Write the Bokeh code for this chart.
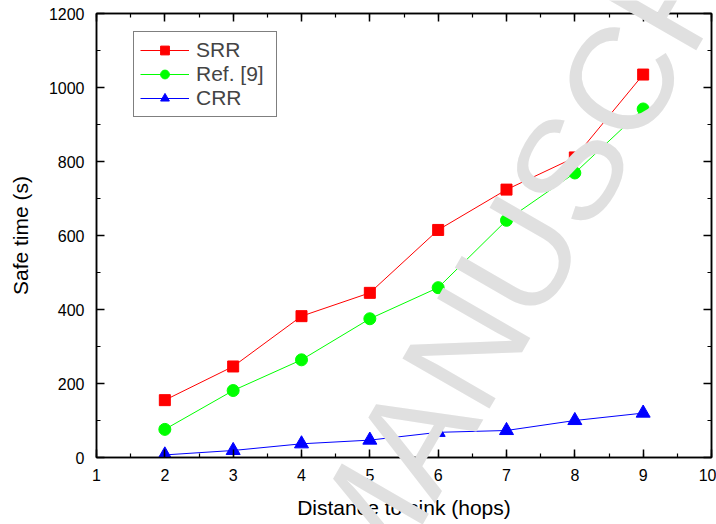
from bokeh.plotting import figure
from bokeh.models import (Range1d, SingleIntervalTicker, LinearAxis, Legend, LegendItem, Label)
from bokeh.layouts import column
from bokeh.embed import file_html
from bokeh.resources import INLINE

hops = [2, 3, 4, 5, 6, 7, 8, 9]
srr = [155, 246, 382, 445, 615, 724, 811, 1035]
ref9 = [76, 181, 264, 375, 459, 641, 769, 942]
crr = [7, 19, 37, 47, 68, 73, 100, 120]
series_names = ["SRR", "Ref. [9]", "CRR"]
x_label = "Distance to sink (hops)"
y_label = "Safe time (s)"
watermark = "MANUSCRIPT"

FONT = "Liberation Sans"
W, H = 716, 524

p = figure(width=W, height=H, output_backend="svg", toolbar_location=None,
           x_range=Range1d(1, 10), y_range=Range1d(0, 1200),
           min_border_left=96, min_border_right=5, min_border_top=13, min_border_bottom=67)
p.grid.visible = False
p.outline_line_color = "black"
p.outline_line_width = 1.5
p.background_fill_color = "white"
p.border_fill_color = "white"

def style(ax, labels=True):
    ax.axis_line_width = 1.5
    ax.axis_line_color = "black"
    ax.major_tick_in = 8
    ax.major_tick_out = 0
    ax.minor_tick_in = 4
    ax.minor_tick_out = 0
    ax.major_tick_line_width = 1.5
    ax.minor_tick_line_width = 1.2
    ax.major_label_text_font = FONT
    ax.major_label_text_color = "black"
    ax.axis_label_text_font = FONT
    ax.axis_label_text_font_style = "normal"
    ax.axis_label_text_color = "black"
    if not labels:
        ax.major_label_text_color = None
        ax.major_label_text_font_size = "0px"
        ax.major_label_standoff = 0

p.xaxis.ticker = SingleIntervalTicker(interval=1, num_minor_ticks=2)
p.yaxis.ticker = SingleIntervalTicker(interval=200, num_minor_ticks=2)
style(p.xaxis[0])
style(p.yaxis[0])
p.xaxis.major_label_text_font_size = "16px"
p.yaxis.major_label_text_font_size = "16px"
p.xaxis.major_label_standoff = 11
p.yaxis.major_label_standoff = 12
p.xaxis.axis_label = x_label
p.yaxis.axis_label = y_label
p.xaxis.axis_label_text_font_size = "21px"
p.yaxis.axis_label_text_font_size = "21px"
p.xaxis.axis_label_standoff = 12
p.yaxis.axis_label_standoff = 14

top = LinearAxis(ticker=SingleIntervalTicker(interval=1, num_minor_ticks=2))
right = LinearAxis(ticker=SingleIntervalTicker(interval=200, num_minor_ticks=2))
style(top, labels=False)
style(right, labels=False)
p.add_layout(top, "above")
p.add_layout(right, "right")

l1 = p.line(hops, srr, line_color="#ff0000", line_width=1)
m1 = p.scatter(hops, srr, marker="square", size=11, fill_color="#ff0000", line_color="#ff0000")
l2 = p.line(hops, ref9, line_color="#00ff00", line_width=1)
m2 = p.scatter(hops, ref9, marker="circle", size=12, fill_color="#00ff00", line_color="#00ff00")
l3 = p.line(hops, crr, line_color="#0000ff", line_width=1)
m3 = p.scatter(hops, crr, marker="triangle", size=14, fill_color="#0000ff", line_color="#0000ff")

legend = Legend(items=[LegendItem(label=series_names[0], renderers=[l1, m1]),
                       LegendItem(label=series_names[1], renderers=[l2, m2]),
                       LegendItem(label=series_names[2], renderers=[l3, m3])],
                location=(37, 340))
legend.label_text_font = FONT
legend.label_text_font_size = "21px"
legend.border_line_color = "black"
legend.border_line_width = 1
legend.background_fill_alpha = 1
legend.padding = 6
legend.spacing = 0
legend.margin = 0
legend.label_height = 22
legend.glyph_height = 22
legend.glyph_width = 49
legend.label_standoff = 7
legend.label_width = 74
p.add_layout(legend, "center")

# transparent overlay canvas for the unclipped diagonal watermark (pixel coordinates)
ov = figure(width=W, height=H, output_backend="svg", toolbar_location=None,
            x_range=Range1d(0, W), y_range=Range1d(H, 0),
            x_axis_type=None, y_axis_type=None, min_border=0)
ov.grid.visible = False
ov.outline_line_color = None
ov.background_fill_alpha = 0
ov.border_fill_alpha = 0
ov.styles = {"margin-top": f"-{H}px"}
wm = Label(x=553, y=165, text=watermark, angle=60, angle_units="deg",
           text_font=FONT, text_font_size="146px", text_color="#e0e0e0",
           text_align="center", text_baseline="middle")
ov.add_layout(wm)

layout = column(p, ov, spacing=0)
open("out.html", "w").write(file_html(layout, INLINE))
